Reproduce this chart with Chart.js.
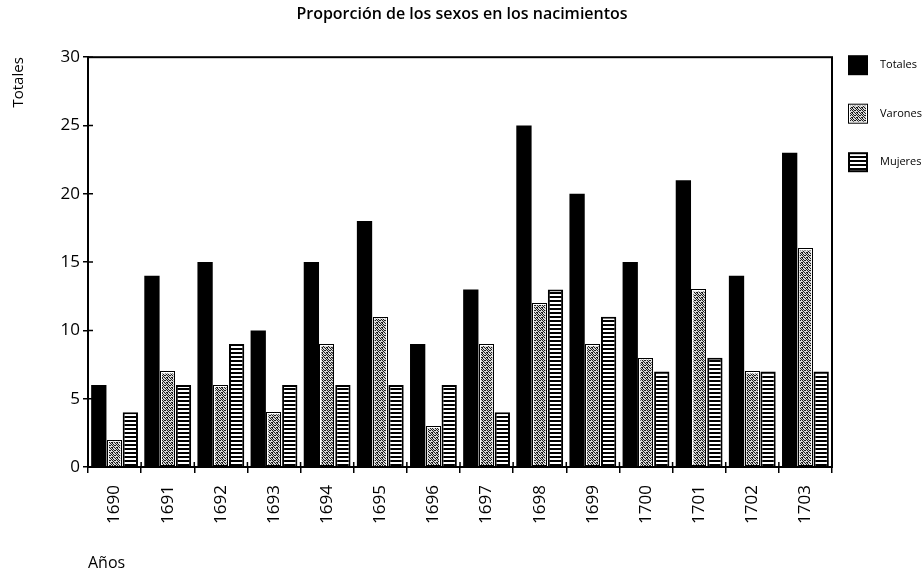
<!DOCTYPE html>
<html>
<head>
<meta charset="utf-8">
<script src="https://cdn.jsdelivr.net/npm/chart.js@4.4.1/dist/chart.umd.min.js"></script>
<style>
  html, body { margin: 0; padding: 0; background: #fff; }
</style>
</head>
<body>
<canvas id="chart" width="924" height="569"></canvas>
<script>
const years = ['1690', '1691', '1692', '1693', '1694', '1695', '1696', '1697', '1698', '1699', '1700', '1701', '1702', '1703'];
const totales = [6, 14, 15, 10, 15, 18, 9, 13, 25, 20, 15, 21, 14, 23];
const varones = [2, 7, 6, 4, 9, 11, 3, 9, 12, 9, 8, 13, 7, 16];
const mujeres = [4, 6, 9, 6, 6, 6, 6, 4, 13, 11, 7, 8, 7, 7];
const yMax = 30;
const yStep = 5;

const FONT = "'Open Sans', sans-serif";

const makePattern = (w, h, draw) => {
  const c = document.createElement('canvas');
  c.width = w;
  c.height = h;
  const g = c.getContext('2d');
  draw(g);
  return g.createPattern(c, 'repeat');
};

// black/white dither for Varones
const speckle = makePattern(5, 5, g => {
  g.fillStyle = '#d8d8d8';
  g.fillRect(0, 0, 5, 5);
  g.fillStyle = '#1a1a1a';
  [[0, 0], [2, 0], [3, 1], [1, 2], [4, 2], [0, 3], [2, 3], [3, 4], [1, 4], [4, 0], [2, 2]]
    .forEach(([x, y]) => g.fillRect(x, y, 1, 1));
});

// horizontal stripes for Mujeres
const stripes = makePattern(4, 4, g => {
  g.fillStyle = '#fff';
  g.fillRect(0, 0, 4, 4);
  g.fillStyle = '#000';
  g.fillRect(0, 0, 4, 2);
});

// black outline around the speckled bars (white inner band comes from the border)
const outlineVarones = {
  id: 'outlineVarones',
  afterDatasetDraw(chart, args) {
    if (args.index !== 1) return;
    const ctx = chart.ctx;
    ctx.save();
    ctx.strokeStyle = '#000';
    ctx.lineWidth = 1;
    args.meta.data.forEach(el => {
      const {x, y, base, width} = el.getProps(['x', 'y', 'base', 'width'], true);
      ctx.strokeRect(Math.round(x - width / 2) + 0.5, Math.round(y) + 0.5, Math.round(width) - 1, Math.round(base - y) - 1);
    });
    ctx.restore();
  }
};

// frame round the plot and the inner half of the tick marks
const plotFrame = {
  id: 'plotFrame',
  afterDraw(chart) {
    const {ctx, chartArea: a, scales} = chart;
    ctx.save();
    ctx.strokeStyle = '#000';
    ctx.lineWidth = 2;
    ctx.strokeRect(a.left, a.top, a.right - a.left, a.bottom - a.top);
    ctx.lineWidth = 1.5;
    ctx.beginPath();
    scales.y.ticks.forEach(t => {
      const py = scales.y.getPixelForValue(t.value);
      ctx.moveTo(a.left, py);
      ctx.lineTo(a.left + 5, py);
    });
    for (let i = 1; i < years.length; i++) {
      const px = (scales.x.getPixelForValue(i) + scales.x.getPixelForValue(i - 1)) / 2;
      ctx.moveTo(px, a.bottom);
      ctx.lineTo(px, a.bottom - 5);
    }
    ctx.stroke();
    ctx.restore();
  }
};

// legend in the right margin
const sideLegend = {
  id: 'sideLegend',
  afterDraw(chart) {
    const {ctx, chartArea: a} = chart;
    ctx.save();
    ctx.font = '11px ' + FONT;
    ctx.textBaseline = 'middle';
    chart.data.datasets.forEach((ds, i) => {
      const bx = a.right + 16;
      const by = a.top - 2 + i * 48.5;
      const s = 20;
      ctx.fillStyle = ds.borderColor;
      ctx.fillRect(bx, by, s, s);
      const bw = ds.borderWidth || 0;
      if (bw) {
        ctx.fillStyle = ds.backgroundColor;
        ctx.fillRect(bx + bw, by + bw, s - 2 * bw, s - 2 * bw);
      }
      if (i === 1) {
        ctx.strokeStyle = '#000';
        ctx.lineWidth = 1;
        ctx.strokeRect(bx + 0.5, by + 0.5, s - 1, s - 1);
      }
      ctx.fillStyle = '#000';
      ctx.fillText(ds.label, bx + 32, by + s / 2);
    });
    ctx.restore();
  }
};

new Chart(document.getElementById('chart'), {
  type: 'bar',
  data: {
    labels: years,
    datasets: [
      { label: 'Totales', data: totales, backgroundColor: '#000', borderColor: '#000', borderWidth: 0 },
      { label: 'Varones', data: varones, backgroundColor: speckle, borderColor: '#fff', borderWidth: 2 },
      { label: 'Mujeres', data: mujeres, backgroundColor: stripes, borderColor: '#000', borderWidth: 2 }
    ]
  },
  options: {
    responsive: false,
    animation: false,
    categoryPercentage: 0.89,
    barPercentage: 0.97,
    layout: { padding: 0 },
    plugins: {
      legend: { display: false },
      tooltip: { enabled: false },
      title: {
        display: true,
        text: 'Proporción de los sexos en los nacimientos',
        color: '#000',
        font: { family: FONT, size: 16, weight: '600' },
        padding: { top: 5, bottom: 33 }
      }
    },
    scales: {
      x: {
        afterFit: s => { s.height = 102; },
        grid: { display: true, drawOnChartArea: false, offset: true, color: '#000', lineWidth: 1.5, tickLength: 6 },
        border: { display: true, color: '#000', width: 2 },
        ticks: {
          color: '#000', font: { family: FONT, size: 17 },
          minRotation: 90, maxRotation: 90, autoSkip: false, padding: 12
        },
        title: {
          display: true, text: 'Años', align: 'start', color: '#000',
          font: { family: FONT, size: 16 }, padding: { top: 0, bottom: -4 }
        }
      },
      y: {
        min: 0,
        max: yMax,
        afterFit: s => { s.width = 88; },
        grid: { display: true, drawOnChartArea: false, color: '#000', lineWidth: 1.5, tickLength: 5 },
        border: { display: true, color: '#000', width: 2 },
        ticks: { stepSize: yStep, color: '#000', font: { family: FONT, size: 17 }, padding: 3 },
        title: {
          display: true, text: 'Totales', align: 'end', color: '#000',
          font: { family: FONT, size: 15 }, padding: { top: 10, bottom: 0 }
        }
      },
      side: {
        type: 'linear',
        position: 'right',
        afterFit: s => { s.width = 92; },
        grid: { display: false },
        border: { display: false },
        ticks: { display: false }
      }
    }
  },
  plugins: [outlineVarones, plotFrame, sideLegend]
});
</script>
</body>
</html>
